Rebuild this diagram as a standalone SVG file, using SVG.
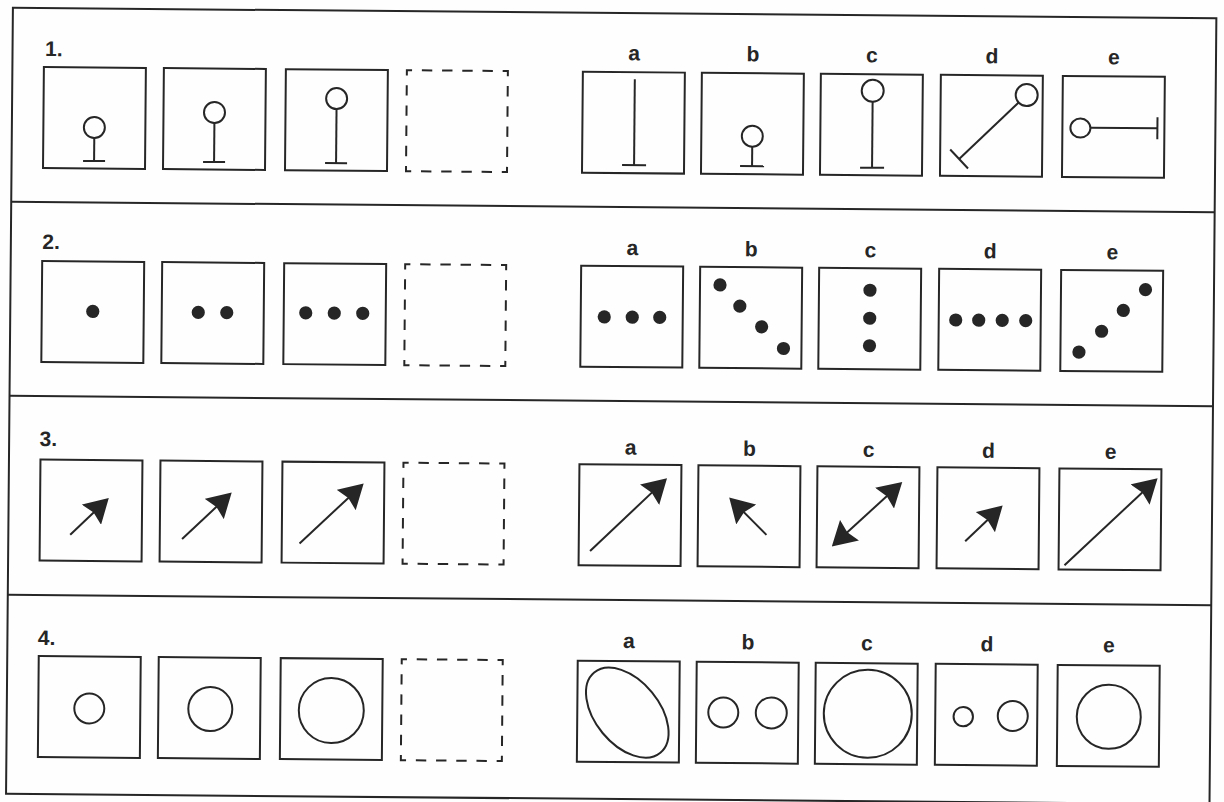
<svg xmlns="http://www.w3.org/2000/svg" width="1224" height="802" viewBox="0 0 1224 802">
<defs>
<style>
.frame{fill:none;stroke:#262626;stroke-width:2}
.box{fill:none;stroke:#262626;stroke-width:2}
.dash{fill:none;stroke:#262626;stroke-width:2;stroke-dasharray:10.4 9.8;stroke-dashoffset:5.2}
.ln{fill:none;stroke:#262626;stroke-width:2}
.dot{fill:#262626}
.num{font-family:"Liberation Sans",Arial,sans-serif;font-weight:bold;font-size:21px;fill:#262626}
.lbl{font-family:"Liberation Sans",Arial,sans-serif;font-weight:bold;font-size:21px;fill:#262626;text-anchor:middle}
.arr{fill:none;stroke:#262626;stroke-width:2;marker-end:url(#head)}
.arr2{fill:none;stroke:#262626;stroke-width:2;marker-end:url(#head);marker-start:url(#headR)}
</style>
<marker id="head" viewBox="0 0 24 28" refX="10" refY="14" markerWidth="24" markerHeight="28" markerUnits="userSpaceOnUse" orient="auto">
<path d="M0,0 L24,14 L0,28 L3,14 Z" fill="#262626"/>
</marker>
<marker id="headR" viewBox="0 0 24 28" refX="10" refY="14" markerWidth="24" markerHeight="28" markerUnits="userSpaceOnUse" orient="auto-start-reverse">
<path d="M0,0 L24,14 L0,28 L3,14 Z" fill="#262626"/>
</marker>
</defs>
<rect x="0" y="0" width="1224" height="802" fill="#fefefe"/>
<g transform="rotate(0.5 612 401)">
<g id="frame">
<rect class="frame" x="9.5" y="13" width="1203.5" height="786"/>
<line class="frame" x1="9.5" y1="207" x2="1213" y2="207"/>
<line class="frame" x1="9.5" y1="401" x2="1213" y2="401"/>
<line class="frame" x1="9.5" y1="600" x2="1213" y2="600"/>
</g>
<g id="connectors"></g>

<!-- Row 1 -->
<g id="row1">
<text class="num" x="42" y="61">1.</text>
<g id="r1-q1" transform="translate(41,72)">
<rect class="box" width="102" height="101"/>
<circle class="ln" cx="51" cy="60" r="10.5"/>
<line class="ln" x1="51" y1="70.5" x2="51" y2="93.5"/>
<line class="ln" x1="40" y1="93.5" x2="62" y2="93.5"/>
</g>
<g id="r1-q2" transform="translate(161,72)">
<rect class="box" width="102" height="101"/>
<circle class="ln" cx="51" cy="44" r="10.5"/>
<line class="ln" x1="51" y1="54.5" x2="51" y2="93.5"/>
<line class="ln" x1="40" y1="93.5" x2="62" y2="93.5"/>
</g>
<g id="r1-q3" transform="translate(283,72)">
<rect class="box" width="102" height="101"/>
<circle class="ln" cx="51" cy="29" r="10.5"/>
<line class="ln" x1="51" y1="39.5" x2="51" y2="93.5"/>
<line class="ln" x1="40" y1="93.5" x2="62" y2="93.5"/>
</g>
<g id="r1-q4" transform="translate(404,72)">
<rect class="dash" width="101" height="101"/>
</g>
<g id="r1-a" transform="translate(580,72)">
<text class="lbl" x="51" y="-12">a</text>
<rect class="box" width="102" height="101"/>
<line class="ln" x1="52" y1="7" x2="52" y2="93"/>
<line class="ln" x1="40" y1="93" x2="64" y2="93"/>
</g>
<g id="r1-b" transform="translate(699,72)">
<text class="lbl" x="51" y="-12">b</text>
<rect class="box" width="102" height="101"/>
<circle class="ln" cx="51" cy="63" r="10.5"/>
<line class="ln" x1="51" y1="73.5" x2="51" y2="93"/>
<line class="ln" x1="39" y1="93" x2="63" y2="93"/>
</g>
<g id="r1-c" transform="translate(818,72)">
<text class="lbl" x="51" y="-12">c</text>
<rect class="box" width="102" height="101"/>
<circle class="ln" cx="52" cy="16.5" r="11"/>
<line class="ln" x1="52" y1="27.5" x2="52" y2="93.5"/>
<line class="ln" x1="40" y1="93.5" x2="64" y2="93.5"/>
</g>
<g id="r1-d" transform="translate(938,72)">
<text class="lbl" x="51" y="-12">d</text>
<rect class="box" width="102" height="101"/>
<circle class="ln" cx="86" cy="19.5" r="11"/>
<line class="ln" x1="78" y1="27" x2="19" y2="84"/>
<line class="ln" x1="10" y1="74.6" x2="28" y2="93.4"/>
</g>
<g id="r1-e" transform="translate(1060,72)">
<text class="lbl" x="51" y="-12">e</text>
<rect class="box" width="102" height="101"/>
<ellipse class="ln" cx="18" cy="52" rx="10" ry="9.5"/>
<line class="ln" x1="28" y1="51.5" x2="95" y2="51.5"/>
<line class="ln" x1="95" y1="40.5" x2="95" y2="62.5"/>
</g>
</g>

<!-- Row 2 -->
<g id="row2">
<text class="num" x="41" y="254">2.</text>
<g id="r2-q1" transform="translate(41,266)">
<rect class="box" width="102" height="101"/>
<circle class="dot" cx="51" cy="50" r="6.6"/>
</g>
<g id="r2-q2" transform="translate(161,266)">
<rect class="box" width="102" height="101"/>
<circle class="dot" cx="36.5" cy="50" r="6.6"/>
<circle class="dot" cx="65" cy="50" r="6.6"/>
</g>
<g id="r2-q3" transform="translate(283,266)">
<rect class="box" width="102" height="101"/>
<circle class="dot" cx="22" cy="49.5" r="6.6"/>
<circle class="dot" cx="50.5" cy="49.5" r="6.6"/>
<circle class="dot" cx="79" cy="49.5" r="6.6"/>
</g>
<g id="r2-q4" transform="translate(404,266)">
<rect class="dash" width="101" height="101"/>
</g>
<g id="r2-a" transform="translate(580,266)">
<text class="lbl" x="51" y="-11">a</text>
<rect class="box" width="102" height="101"/>
<circle class="dot" cx="23.5" cy="51" r="6.6"/>
<circle class="dot" cx="51.5" cy="51" r="6.6"/>
<circle class="dot" cx="79" cy="51" r="6.6"/>
</g>
<g id="r2-b" transform="translate(699,266)">
<text class="lbl" x="51" y="-11">b</text>
<rect class="box" width="102" height="101"/>
<circle class="dot" cx="20" cy="18" r="6.6"/>
<circle class="dot" cx="40" cy="39" r="6.6"/>
<circle class="dot" cx="62" cy="59.5" r="6.6"/>
<circle class="dot" cx="84" cy="81" r="6.6"/>
</g>
<g id="r2-c" transform="translate(818,266)">
<text class="lbl" x="51" y="-11">c</text>
<rect class="box" width="102" height="101"/>
<circle class="dot" cx="51" cy="22" r="6.6"/>
<circle class="dot" cx="51" cy="50" r="6.6"/>
<circle class="dot" cx="51" cy="77.5" r="6.6"/>
</g>
<g id="r2-d" transform="translate(938,266)">
<text class="lbl" x="51" y="-11">d</text>
<rect class="box" width="102" height="101"/>
<circle class="dot" cx="17" cy="51" r="6.6"/>
<circle class="dot" cx="40" cy="51" r="6.6"/>
<circle class="dot" cx="63.5" cy="51" r="6.6"/>
<circle class="dot" cx="87" cy="51" r="6.6"/>
</g>
<g id="r2-e" transform="translate(1060,266)">
<text class="lbl" x="51" y="-11">e</text>
<rect class="box" width="102" height="101"/>
<circle class="dot" cx="18.5" cy="82" r="6.6"/>
<circle class="dot" cx="41" cy="61" r="6.6"/>
<circle class="dot" cx="62.5" cy="40" r="6.6"/>
<circle class="dot" cx="84.5" cy="19" r="6.6"/>
</g>
</g>

<!-- Row 3 -->
<g id="row3">
<text class="num" x="40" y="451">3.</text>
<g id="r3-q1" transform="translate(41,464.5)">
<rect class="box" width="102" height="101"/>
<line class="arr" x1="30.4" y1="75" x2="58.6" y2="47.7"/>
</g>
<g id="r3-q2" transform="translate(161,464.5)">
<rect class="box" width="102" height="101"/>
<line class="arr" x1="22.3" y1="78.3" x2="61.4" y2="41"/>
</g>
<g id="r3-q3" transform="translate(283,464.5)">
<rect class="box" width="102" height="101"/>
<line class="arr" x1="17.8" y1="81.7" x2="71.25" y2="30.9"/>
</g>
<g id="r3-q4" transform="translate(404,464.5)">
<rect class="dash" width="101" height="101"/>
</g>
<g id="r3-a" transform="translate(580,464.5)">
<text class="lbl" x="51" y="-10">a</text>
<rect class="box" width="102" height="101"/>
<line class="arr" x1="11.4" y1="86.7" x2="77.6" y2="23"/>
</g>
<g id="r3-b" transform="translate(699,464.5)">
<text class="lbl" x="51" y="-10">b</text>
<rect class="box" width="102" height="101"/>
<line class="arr" x1="68.6" y1="69" x2="41" y2="41.8"/>
</g>
<g id="r3-c" transform="translate(818,464.5)">
<text class="lbl" x="51" y="-10">c</text>
<rect class="box" width="102" height="101"/>
<line class="arr2" x1="25.3" y1="70.5" x2="74.7" y2="24.5"/>
</g>
<g id="r3-d" transform="translate(938,464.5)">
<text class="lbl" x="51" y="-10">d</text>
<rect class="box" width="102" height="101"/>
<line class="arr" x1="28.4" y1="73.7" x2="55.5" y2="47.4"/>
</g>
<g id="r3-e" transform="translate(1060,464.5)">
<text class="lbl" x="51" y="-10">e</text>
<rect class="box" width="102" height="101"/>
<line class="arr" x1="5.9" y1="96.7" x2="88.1" y2="18.6"/>
</g>
</g>

<!-- Row 4 -->
<g id="row4">
<text class="num" x="40" y="650">4.</text>
<g id="r4-q1" transform="translate(41,661)">
<rect class="box" width="102" height="101"/>
<circle class="ln" cx="51" cy="52" r="15"/>
</g>
<g id="r4-q2" transform="translate(161,661)">
<rect class="box" width="102" height="101"/>
<circle class="ln" cx="52" cy="51.5" r="22"/>
</g>
<g id="r4-q3" transform="translate(283,661)">
<rect class="box" width="102" height="101"/>
<circle class="ln" cx="51" cy="52" r="32.5"/>
</g>
<g id="r4-q4" transform="translate(404,661)">
<rect class="dash" width="101" height="101"/>
</g>
<g id="r4-a" transform="translate(580,661)">
<text class="lbl" x="51" y="-13">a</text>
<rect class="box" width="102" height="101"/>
<ellipse class="ln" cx="50" cy="51.5" rx="52" ry="32" transform="rotate(50 50 51.5)"/>
</g>
<g id="r4-b" transform="translate(699,661)">
<text class="lbl" x="51" y="-13">b</text>
<rect class="box" width="102" height="101"/>
<circle class="ln" cx="27" cy="50.5" r="15"/>
<circle class="ln" cx="75" cy="50.5" r="15.5"/>
</g>
<g id="r4-c" transform="translate(818,661)">
<text class="lbl" x="51" y="-13">c</text>
<rect class="box" width="102" height="101"/>
<circle class="ln" cx="52.5" cy="50.5" r="44"/>
</g>
<g id="r4-d" transform="translate(938,661)">
<text class="lbl" x="51" y="-13">d</text>
<rect class="box" width="102" height="101"/>
<circle class="ln" cx="28" cy="52.5" r="9.7"/>
<circle class="ln" cx="77.5" cy="51.5" r="15"/>
</g>
<g id="r4-e" transform="translate(1060,661)">
<text class="lbl" x="51" y="-13">e</text>
<rect class="box" width="102" height="101"/>
<circle class="ln" cx="51.5" cy="51.5" r="32"/>
</g>
</g>
</g>
</svg>
